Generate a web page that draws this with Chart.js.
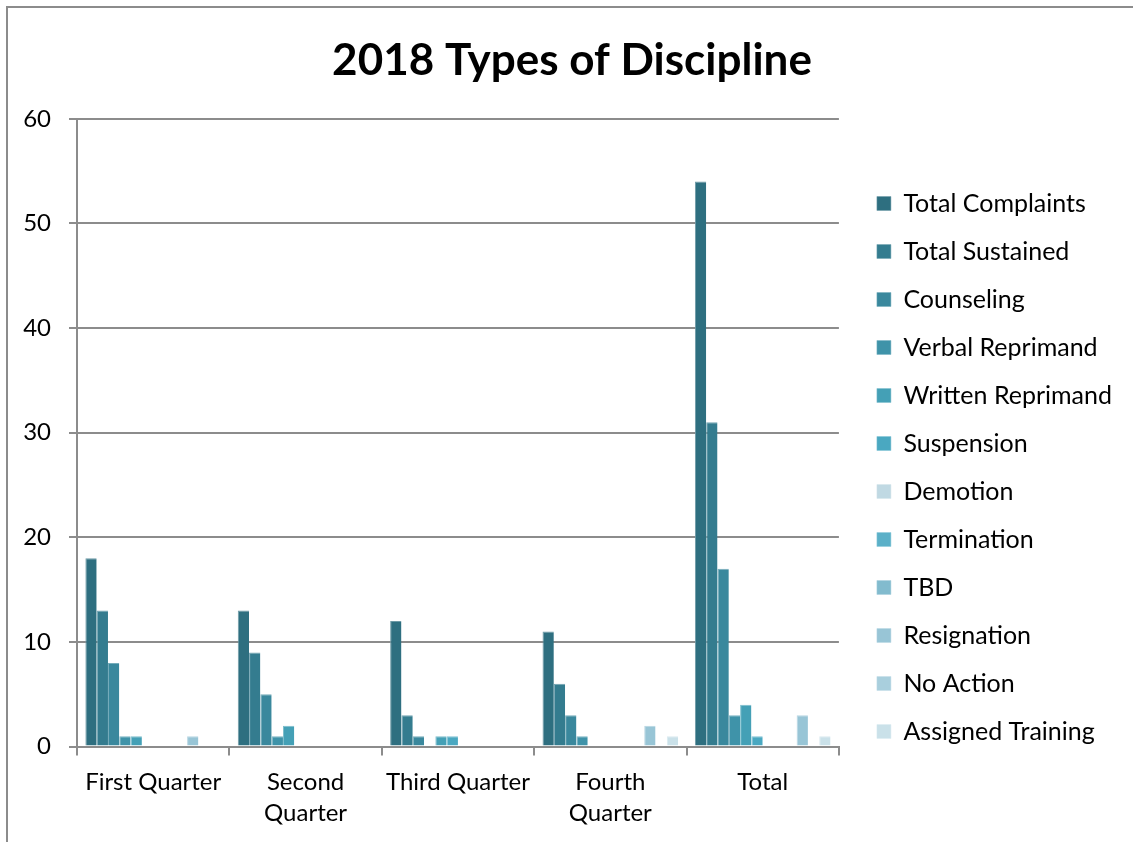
<!DOCTYPE html>
<html>
<head>
<meta charset="utf-8">
<script src="https://cdn.jsdelivr.net/npm/chart.js@4/dist/chart.umd.min.js"></script>
<style>
  html, body { margin: 0; padding: 0; background: #fff; }
  #wrap { width: 1133px; height: 842px; }
</style>
</head>
<body>
<div id="wrap"><canvas id="discipline"></canvas></div>
<script>
const categories = ['First Quarter', ['Second', 'Quarter'], 'Third Quarter', ['Fourth', 'Quarter'], 'Total']

const seriesNames = [
  'Total Complaints', 'Total Sustained', 'Counseling', 'Verbal Reprimand',
  'Written Reprimand', 'Suspension', 'Demotion', 'Termination', 'TBD',
  'Resignation', 'No Action', 'Assigned Training'
]

const totalComplaints = [18, 13, 12, 11, 54]
const totalSustained = [13, 9, 3, 6, 31]
const counseling = [8, 5, 1, 3, 17]
const verbalReprimand = [1, 1, 0, 1, 3]
const writtenReprimand = [1, 2, 1, 0, 4]
const suspension = [0, 0, 1, 0, 1]
const demotion = [0, 0, 0, 0, 0]
const termination = [0, 0, 0, 0, 0]
const tbd = [0, 0, 0, 0, 0]
const resignation = [1, 0, 0, 2, 3]
const noAction = [0, 0, 0, 0, 0]
const assignedTraining = [0, 0, 0, 1, 1]

const yTicks = [0, 10, 20, 30, 40, 50, 60]

const seriesValues = [
  totalComplaints, totalSustained, counseling, verbalReprimand,
  writtenReprimand, suspension, demotion, termination, tbd,
  resignation, noAction, assignedTraining
]

const seriesColors = [
  '#2e6f80', '#347c8f', '#3a889d', '#3f93a9', '#44a0b6', '#4aa8c1',
  '#c0d9e3', '#5bb0c8', '#82bbce', '#98c5d6', '#a9cfdd', '#cae1e9'
]

const FONT = 'Lato, Carlito, Calibri, sans-serif'
const GRID = '#8c8c8c'

// lighter edge like the office-style bar outline
function lighten(hex, amt) {
  const n = parseInt(hex.slice(1), 16)
  const mix = (c) => Math.round(c + (255 - c) * amt)
  return `rgb(${mix(n >> 16)}, ${mix((n >> 8) & 255)}, ${mix(n & 255)})`
}

// outer frame: only top and left edges show in the picture
const framePlugin = {
  id: 'frame',
  beforeDraw(chart) {
    const c = chart.ctx
    c.save()
    c.strokeStyle = GRID
    c.lineWidth = 2
    c.beginPath()
    c.moveTo(7, chart.height)
    c.lineTo(7, 7)
    c.lineTo(chart.width, 7)
    c.stroke()
    c.restore()
  }
}

const ctx = document.getElementById('discipline')

new Chart(ctx, {
  type: 'bar',
  data: {
    labels: categories,
    datasets: seriesNames.map((name, i) => ({
      label: name,
      data: seriesValues[i],
      backgroundColor: seriesColors[i],
      borderColor: lighten(seriesColors[i], 0.3),
      borderWidth: { left: 1, top: 1, right: 0, bottom: 0 },
      borderSkipped: false,
      categoryPercentage: 0.89,
      barPercentage: 1
    }))
  },
  options: {
    responsive: true,
    maintainAspectRatio: false,
    animation: false,
    layout: {
      padding: { left: 22, right: 11, top: 0, bottom: 2 }
    },
    plugins: {
      title: {
        display: true,
        text: '2018 Types of Discipline',
        color: '#000',
        font: { family: FONT, size: 44, weight: 'bold', lineHeight: 1.2 },
        padding: { top: 34, bottom: 32 }
      },
      legend: {
        position: 'right',
        align: 'center',
        maxWidth: 320,
        title: {
          display: true,
          text: '',
          font: { size: 10, lineHeight: 1.2 },
          padding: { top: 0, bottom: 83 }
        },
        labels: {
          boxWidth: 14,
          boxHeight: 14,
          padding: 23,
          color: '#000',
          font: { family: FONT, size: 25 }
        }
      },
      tooltip: { enabled: false }
    },
    scales: {
      x: {
        grid: {
          offset: true,
          drawOnChartArea: false,
          drawTicks: true,
          tickLength: 9,
          color: GRID,
          lineWidth: 2
        },
        border: { display: true, color: GRID, width: 2 },
        ticks: {
          color: '#000',
          font: { family: FONT, size: 24, lineHeight: 1.3 },
          padding: 11,
          maxRotation: 0,
          autoSkip: false
        }
      },
      y: {
        min: 0,
        max: 60,
        afterBuildTicks(scale) {
          scale.ticks = yTicks.map((v) => ({ value: v }))
        },
        afterFit(scale) {
          scale.width = 55
        },
        grid: {
          color: GRID,
          lineWidth: 2,
          drawTicks: true,
          tickLength: 8
        },
        border: { display: true, color: GRID, width: 2 },
        ticks: {
          color: '#000',
          font: { family: FONT, size: 24 },
          padding: 18
        }
      },
      // spacer between plot and legend
      gap: {
        type: 'linear',
        position: 'right',
        display: true,
        grid: { display: false },
        border: { display: false },
        ticks: { display: false },
        afterFit(scale) {
          scale.width = 15
        }
      }
    }
  },
  plugins: [framePlugin]
})
</script>
</body>
</html>
